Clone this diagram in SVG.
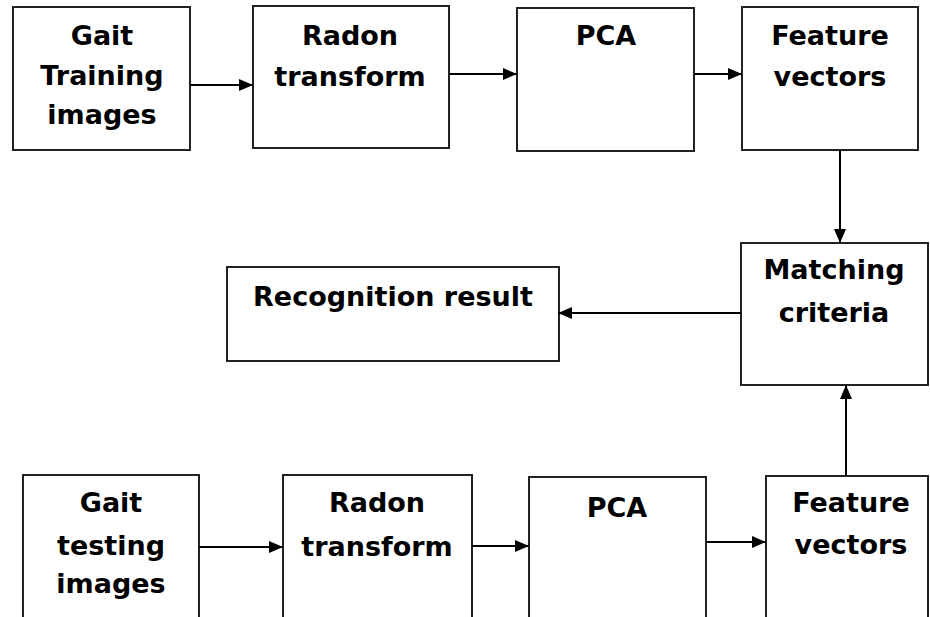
<svg xmlns="http://www.w3.org/2000/svg" width="930" height="617" viewBox="0 0 930 617">
  <style>
    .box { fill: #ffffff; stroke: #222222; stroke-width: 2; }
    .lbl { font-family: "DejaVu Sans", Verdana, sans-serif; font-weight: bold; font-size: 27px; fill: #000000; text-anchor: middle; }
    .link { fill: none; stroke: #000000; stroke-width: 2; marker-end: url(#arrow); }
  </style>
  <defs>
    <marker id="arrow" markerUnits="userSpaceOnUse" markerWidth="15" markerHeight="12" refX="14" refY="6" orient="auto">
      <path d="M0,0 L14,6 L0,12 Z" fill="#000000"/>
    </marker>
  </defs>
  <rect width="930" height="617" fill="#ffffff"/>

  <!-- training path -->
  <g id="train-images">
    <rect class="box" x="13" y="7" width="177" height="143"/>
    <text class="lbl" x="102" y="45">Gait</text>
    <text class="lbl" x="102" y="85">Training</text>
    <text class="lbl" x="102" y="124">images</text>
  </g>
  <g id="train-radon">
    <rect class="box" x="253" y="6" width="196" height="142"/>
    <text class="lbl" x="350" y="45">Radon</text>
    <text class="lbl" x="350" y="86">transform</text>
  </g>
  <g id="train-pca">
    <rect class="box" x="517" y="8" width="177" height="143"/>
    <text class="lbl" x="606" y="45">PCA</text>
  </g>
  <g id="train-features">
    <rect class="box" x="742" y="7" width="176" height="143"/>
    <text class="lbl" x="830" y="45">Feature</text>
    <text class="lbl" x="830" y="86">vectors</text>
  </g>

  <!-- decision -->
  <g id="matching">
    <rect class="box" x="741" y="243" width="187" height="142"/>
    <text class="lbl" x="834" y="279">Matching</text>
    <text class="lbl" x="834" y="322">criteria</text>
  </g>
  <g id="result">
    <rect class="box" x="227" y="267" width="332" height="94"/>
    <text class="lbl" x="393" y="306">Recognition result</text>
  </g>

  <!-- testing path -->
  <g id="test-images">
    <rect class="box" x="23" y="475" width="176" height="170"/>
    <text class="lbl" x="111" y="512">Gait</text>
    <text class="lbl" x="111" y="555">testing</text>
    <text class="lbl" x="111" y="593">images</text>
  </g>
  <g id="test-radon">
    <rect class="box" x="283" y="475" width="189" height="170"/>
    <text class="lbl" x="377" y="512">Radon</text>
    <text class="lbl" x="377" y="556">transform</text>
  </g>
  <g id="test-pca">
    <rect class="box" x="529" y="477" width="177" height="170"/>
    <text class="lbl" x="617" y="517">PCA</text>
  </g>
  <g id="test-features">
    <rect class="box" x="766" y="476" width="162" height="170"/>
    <text class="lbl" x="851" y="512">Feature</text>
    <text class="lbl" x="851" y="554">vectors</text>
  </g>

  <g id="connectors">
    <path class="link" d="M190,85 H253"/>
    <path class="link" d="M449,74 H517"/>
    <path class="link" d="M694,74 H742"/>
    <path class="link" d="M840,150 V243"/>
    <path class="link" d="M741,313 H558"/>
    <path class="link" d="M199,547 H283"/>
    <path class="link" d="M472,546 H529"/>
    <path class="link" d="M706,542 H766"/>
    <path class="link" d="M846,476 V385"/>
  </g>
</svg>
